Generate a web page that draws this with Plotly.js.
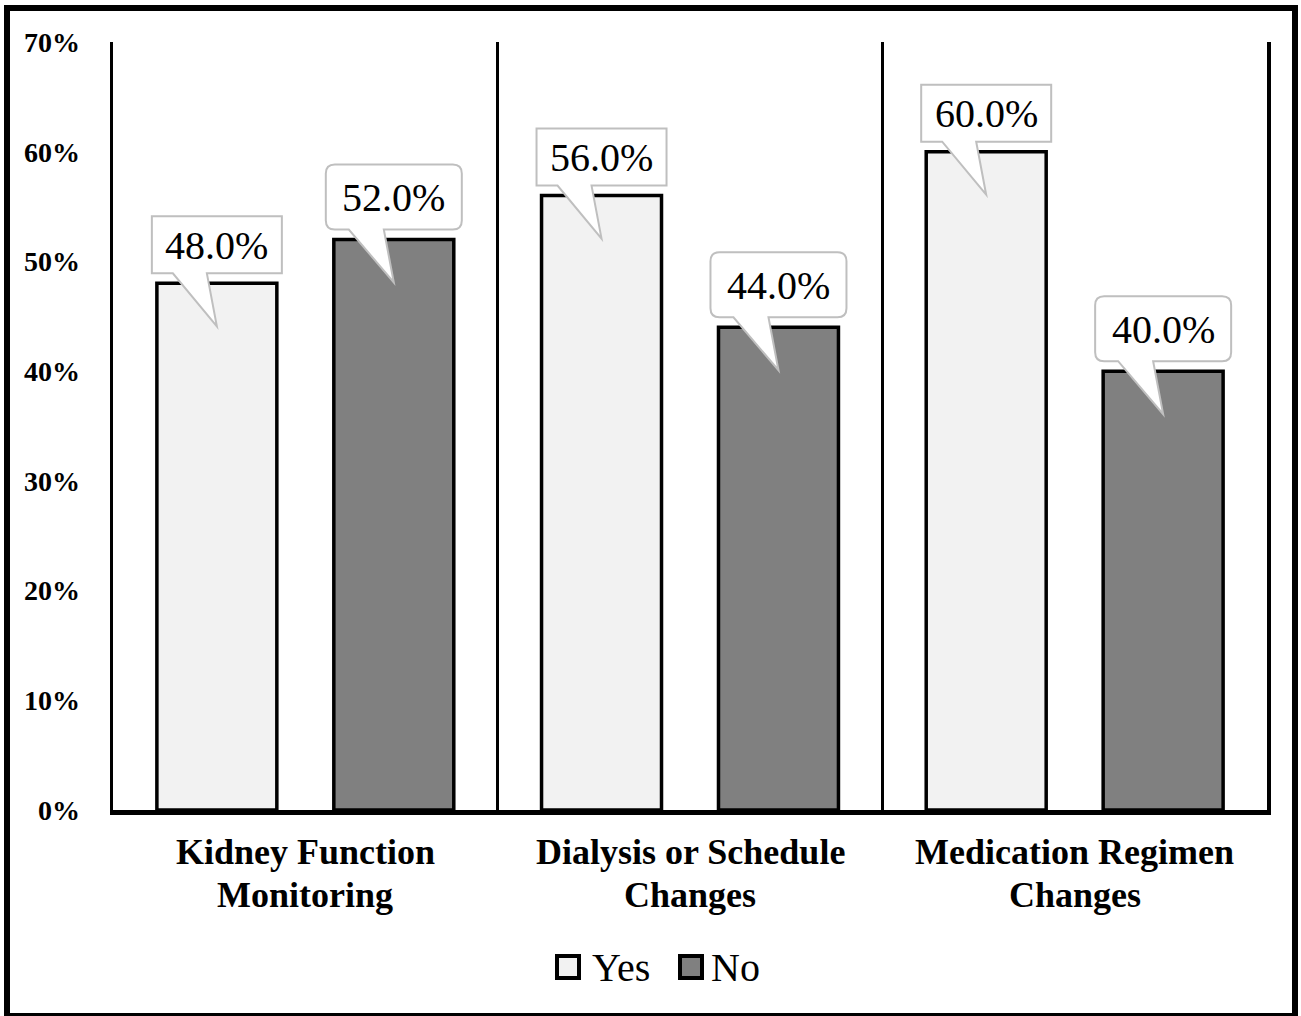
<!DOCTYPE html>
<html>
<head>
<meta charset="utf-8">
<script src="https://cdn.plot.ly/plotly-3.0.1.min.js"></script>
<style>
  html, body { margin: 0; padding: 0; background: #ffffff; }
  #wrap { position: relative; width: 1301px; height: 1016px; overflow: hidden; }
  #chart { position: absolute; left: 0; top: 0; width: 1301px; height: 1016px; }
  #frame { position: absolute; left: 4px; top: 5px; width: 1294px; height: 1014px;
           border: 6px solid #000; box-sizing: border-box; pointer-events: none; }
</style>
</head>
<body>
<div id="wrap"><div id="chart"></div><div id="frame"></div></div>
<script>
// ---- data ----
const categories = ["Kidney Function<br>Monitoring", "Dialysis or Schedule<br>Changes", "Medication Regimen<br>Changes"];
const seriesNames = ["Yes", "No"];
const yesValues = [48.0, 56.0, 60.0];
const noValues = [52.0, 44.0, 40.0];
const yTickVals = [0, 10, 20, 30, 40, 50, 60, 70];
const yTickText = ["0%", "10%", "20%", "30%", "40%", "50%", "60%", "70%"];

// ---- styling ----
const SERIF = 'Liberation Serif, Times New Roman, Times, serif';
const fills = ["#f2f2f2", "#808080"];
const seriesValues = [yesValues, noValues];
const BARGAP = 0.08, BARGROUPGAP = 0.322;
// centre offset of each bar inside its category slot (grouped mode, 2 series)
const slot = (1 - BARGAP) / 2;
const offsets = [-slot / 2, slot / 2];

const traces = seriesNames.map((name, s) => ({
  type: 'bar',
  name: name,
  x: categories,
  y: seriesValues[s],
  marker: { color: fills[s], line: { color: '#000', width: 3.5 } },
  showlegend: false,
  hoverinfo: 'skip'
}));

const shapes = [];
const annotations = [];

// callout bubbles: pixel geometry relative to each bar's top centre (y up)
function rectBubble() {
  return 'M -65,10 L -44,10 L 0,-43 L -10,10 L 65,10 L 65,67 L -65,67 Z';
}
function roundBubble() {
  return 'M -59,10 L -45,10 L 0,-43 L -10,10 L 59,10 Q 68,10 68,19 L 68,66 Q 68,75 59,75 ' +
         'L -59,75 Q -68,75 -68,66 L -68,19 Q -68,10 -59,10 Z';
}

seriesValues.forEach((vals, s) => {
  vals.forEach((v, i) => {
    const xa = i + offsets[s];
    shapes.push({
      type: 'path', layer: 'above',
      xref: 'x', yref: 'y',
      xsizemode: 'pixel', ysizemode: 'pixel',
      xanchor: xa, yanchor: v,
      path: s === 0 ? rectBubble() : roundBubble(),
      fillcolor: '#ffffff',
      line: { color: '#bfbfbf', width: 2 }
    });
    annotations.push({
      xref: 'x', yref: 'y', x: xa, y: v,
      xanchor: 'center', yanchor: 'middle',
      yshift: s === 0 ? 38 : 42,
      text: v.toFixed(1) + '%',
      showarrow: false,
      font: { family: SERIF, size: 40, color: '#000' }
    });
  });
});

// category labels, one annotation per text line for tight line spacing
categories.forEach((c, i) => {
  c.split('<br>').forEach((line, j) => {
    annotations.push({
      xref: 'x', yref: 'paper', x: i, y: 0,
      xanchor: 'center', yanchor: 'middle',
      yshift: -(42 + j * 42.5),
      text: line, showarrow: false,
      font: { family: SERIF, size: 36, color: '#000', weight: 'bold' }
    });
  });
});

// legend (square swatches + labels), anchored at the plot's bottom-left corner
const legendSwatchX = [444, 567];
const legendTextX = [477, 596];
seriesNames.forEach((name, s) => {
  shapes.push({
    type: 'rect', layer: 'above',
    xref: 'paper', yref: 'paper',
    xsizemode: 'pixel', ysizemode: 'pixel',
    xanchor: 0, yanchor: 0,
    x0: legendSwatchX[s], x1: legendSwatchX[s] + 22,
    y0: -168, y1: -146,
    fillcolor: fills[s],
    line: { color: '#000', width: 4 }
  });
  annotations.push({
    xref: 'paper', yref: 'paper', x: 0, y: 0,
    xanchor: 'left', yanchor: 'middle',
    xshift: legendTextX[s], yshift: -157,
    text: name, showarrow: false,
    font: { family: SERIF, size: 40, color: '#000' }
  });
});

const layout = {
  width: 1301, height: 1016,
  margin: { l: 113, r: 34, t: 42, b: 206, pad: 0 },
  paper_bgcolor: '#ffffff', plot_bgcolor: '#ffffff',
  barmode: 'group', bargap: BARGAP, bargroupgap: BARGROUPGAP,
  showlegend: false,
  font: { family: SERIF, color: '#000' },
  xaxis: {
    type: 'category',
    range: [-0.5, 2.5],
    showticklabels: false,
    ticks: '',
    tickson: 'boundaries',
    showgrid: true, gridcolor: '#000', gridwidth: 3.5,
    showline: true, linecolor: '#000', linewidth: 5,
    zeroline: false, fixedrange: true
  },
  yaxis: {
    range: [0, 70],
    tickmode: 'array', tickvals: yTickVals, ticktext: yTickText,
    ticks: '', ticklabelstandoff: 24,
    tickfont: { family: SERIF, size: 28, color: '#000', weight: 'bold' },
    showgrid: false, zeroline: false,
    showline: true, mirror: true, linecolor: '#000', linewidth: 3.5,
    fixedrange: true
  },
  shapes: shapes,
  annotations: annotations
};

Plotly.newPlot('chart', traces, layout, { displayModeBar: false, staticPlot: true });
</script>
</body>
</html>
